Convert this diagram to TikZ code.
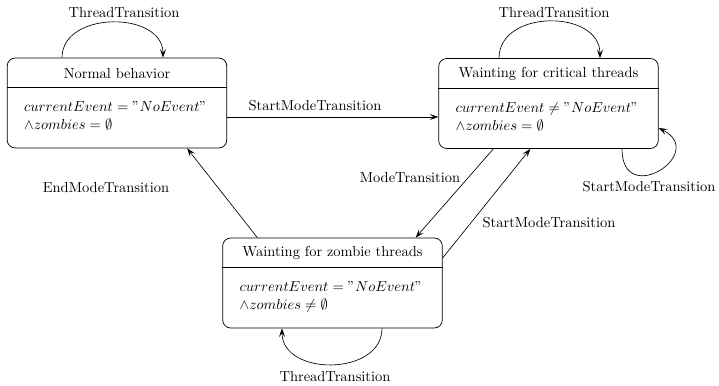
\documentclass[tikz,border=0pt]{standalone}
\usetikzlibrary{arrows.meta,calc}
\begin{document}
\begin{tikzpicture}[x=0.69pt,y=-0.69pt,
  statebox/.style={draw,line width=0.5pt,rounded corners=5.5pt,minimum width=151.5pt,minimum height=62.1pt,inner sep=0pt},
  arr/.style={draw,line width=0.45pt,-{Stealth[length=6pt,width=4.2pt,inset=2.6pt]}},
  lbl/.style={inner sep=0pt,font=\normalsize}]
\useasboundingbox (0,0) rectangle (719,385);
% boxes
\node[statebox] (b1) at (117,103) {};
\node[statebox] (b2) at (548.5,103.5) {};
\node[statebox] (b3) at (332.5,283) {};
% separators
\draw[line width=0.5pt] ($(b1.north west)+(0,30)$) -- ($(b1.north east)+(0,30)$);
\draw[line width=0.5pt] ($(b2.north west)+(0,30)$) -- ($(b2.north east)+(0,30)$);
\draw[line width=0.5pt] ($(b3.north west)+(0,30)$) -- ($(b3.north east)+(0,30)$);
% headers
\node[lbl] (h1) at ($(b1.north)+(0,15.5)$) {Normal behavior};
\node[lbl] (h2) at ($(b2.north)+(0,15.5)$) {Wainting for critical threads};
\node[lbl] (h3) at ($(b3.north)+(0,15.5)$) {Wainting for zombie threads};
% bodies
\node[lbl,anchor=base west] (t1a) at ($(b1.north west)+(17,54)$) {$currentEvent = "NoEvent"$};
\node[lbl,anchor=base west] (t1b) at ($(b1.north west)+(17,72)$) {$\wedge zombies = \emptyset$};
\node[lbl,anchor=base west] (t2a) at ($(b2.north west)+(17,54)$) {$currentEvent \neq "NoEvent"$};
\node[lbl,anchor=base west] (t2b) at ($(b2.north west)+(17,72)$) {$\wedge zombies = \emptyset$};
\node[lbl,anchor=base west] (t3a) at ($(b3.north west)+(17,54)$) {$currentEvent = "NoEvent"$};
\node[lbl,anchor=base west] (t3b) at ($(b3.north west)+(17,72)$) {$\wedge zombies \neq \emptyset$};
% connectors
\draw[arr] ($(b1.east)+(0,14)$) -- ($(b2.west)+(0,13.5)$);
\node[lbl] (l1) at (315,106) {StartModeTransition};
\draw[arr] ($(b3.north west)+(35,0)$) -- ($(b1.south east)+(-40,0)$);
\node[lbl] (l2) at (106,188) {EndModeTransition};
\draw[arr] ($(b2.south west)+(55,0)$) -- ($(b3.north east)+(-27,0)$);
\node[lbl] (l3) at (410,178) {ModeTransition};
\draw[arr] ($(b3.east)+(0,-25)$) -- ($(b2.south west)+(92,0)$);
\node[lbl] (l4) at (549,223) {StartModeTransition};
% loops
\draw[arr] ($(b1.north)+(-55,0)$) .. controls +(0,-47) and +(0,-47) .. ($(b1.north)+(46,0)$);
\node[lbl] (l5) at (124,13) {ThreadTransition};
\draw[arr] ($(b2.north)+(-49.5,0)$) .. controls +(0,-49) and +(0,-49) .. ($(b2.north)+(51.5,0)$);
\node[lbl] (l6) at (554,13) {ThreadTransition};
\draw[arr] ($(b2.south)+(73.5,0)$) .. controls +(0,60) and +(50,25) .. ($(b2.east)+(0,24.5)$);
\node[lbl] (l7) at (649,187) {StartModeTransition};
\draw[arr] ($(b3.south)+(49.5,0)$) .. controls +(0,48) and +(0,48) .. ($(b3.south)+(-50.5,0)$);
\node[lbl] (l8) at (335,377) {ThreadTransition};
\end{tikzpicture}
\end{document}
